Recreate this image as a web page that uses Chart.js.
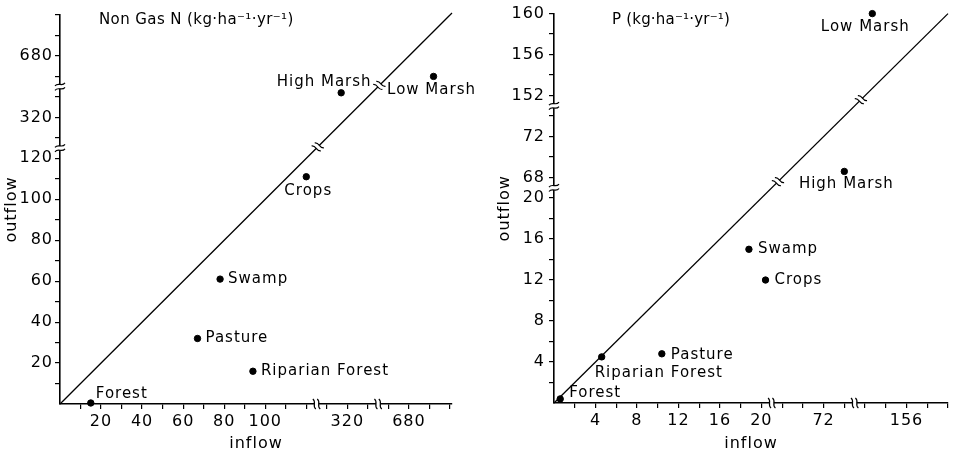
<!DOCTYPE html>
<html>
<head>
<meta charset="utf-8">
<script src="https://cdn.jsdelivr.net/npm/chart.js@4.4.0/dist/chart.umd.min.js"></script>
<style>
  body { margin: 0; background: #fff; }
  canvas { position: absolute; top: 0; }
  #nChart { left: 0; }
  #pChart { left: 480px; }
</style>
</head>
<body>
<canvas id="nChart" width="480" height="454"></canvas>
<canvas id="pChart" width="474" height="454"></canvas>
<script>
// Non gas N (kg/ha/yr)
const nSites = ["Forest", "Pasture", "Swamp", "Riparian Forest", "Crops", "High Marsh", "Low Marsh"];
const nInflow = [15, 67, 78, 94, 120, 317, 692];
const nOutflow = [0.5, 32, 61, 16, 111, 332, 670];
const nXTicks = [10, 20, 30, 40, 50, 60, 70, 80, 90, 100, 110, 120, 310, 320, 330, 670, 680, 690, 700];
const nXLabels = [20, 40, 60, 80, 100, 320, 680];
const nYTicks = [10, 20, 30, 40, 50, 60, 70, 80, 90, 100, 110, 120, 310, 320, 330, 670, 680, 690, 700];
const nYLabels = [20, 40, 60, 80, 100, 120, 320, 680];
// axis pieces: [from, to, amount cut out below]
const nPieces = [[0, 125, 0], [305, 335, 180], [665, 700, 510]];

// P (kg/ha/yr)
const pSites = ["Forest", "Riparian Forest", "Pasture", "Swamp", "Crops", "High Marsh", "Low Marsh"];
const pInflow = [0.6, 4.6, 10.4, 18.8, 20.4, 74, 152.7];
const pOutflow = [0.4, 4.5, 4.8, 15.0, 12.0, 68.6, 160];
const pXTicks = [2, 4, 6, 8, 10, 12, 14, 16, 18, 20, 68, 70, 72, 74, 152, 154, 156, 158, 160];
const pXLabels = [4, 8, 12, 16, 20, 72, 156];
const pYTicks = [2, 4, 6, 8, 10, 12, 14, 16, 18, 20, 68, 70, 72, 74, 152, 154, 156, 158, 160];
const pYLabels = [4, 8, 12, 16, 20, 68, 72, 152, 156, 160];
const pPieces = [[0, 21, 0], [67, 75, 46], [151, 160, 122]];

const family = "DejaVu Sans";

function toShown(v, pieces) {
  for (const [lo, hi, cut] of pieces) if (v <= hi) return v - cut;
  return v - pieces[pieces.length - 1][2];
}

function toReal(d, pieces) {
  for (const [lo, hi, cut] of pieces) if (d <= hi - cut + 0.001) return d + cut;
  return d + pieces[pieces.length - 1][2];
}

function drawBreak(ctx, x, y, ang) {
  ctx.save();
  ctx.translate(x, y);
  ctx.rotate(ang);
  ctx.fillStyle = "#fff";
  ctx.fillRect(-2, -3, 4, 6);
  ctx.strokeStyle = "#000";
  ctx.lineWidth = 1.2;
  for (const s of [-2.2, 2.2]) {
    ctx.beginPath();
    ctx.moveTo(s - 1.5, -5);
    ctx.bezierCurveTo(s + 2.5, -2, s - 2.5, 2, s + 1.5, 5);
    ctx.stroke();
  }
  ctx.restore();
}

function makeChart(id, cfg) {
  const pts = cfg.inflow.map((v, i) => ({ x: toShown(v, cfg.pieces), y: toShown(cfg.outflow[i], cfg.pieces) }));
  const cuts = cfg.pieces.slice(0, -1).map(p => p[1] - p[2]);

  const extras = {
    id: "extras",
    beforeDraw(chart) {
      chart.ctx.letterSpacing = "1px";
    },
    afterDraw(chart) {
      const ctx = chart.ctx;
      const xs = chart.scales.x, ys = chart.scales.y;
      cuts.forEach(c => {
        drawBreak(ctx, xs.getPixelForValue(c), ys.bottom, 0);
        drawBreak(ctx, xs.left, ys.getPixelForValue(c), Math.PI / 2);
        drawBreak(ctx, xs.getPixelForValue(c + 0.6), ys.getPixelForValue(c + 0.6), -Math.PI / 4);
      });
      ctx.save();
      ctx.fillStyle = "#000";
      ctx.font = "15px '" + family + "'";
      ctx.letterSpacing = "1px";
      ctx.textBaseline = "middle";
      const meta = chart.getDatasetMeta(0);
      meta.data.forEach((el, i) => {
        const [dx, dy, align] = cfg.labelPos[i];
        ctx.textAlign = align;
        ctx.fillText(cfg.sites[i], el.x + dx, el.y + dy);
      });
      ctx.textAlign = "left";
      ctx.font = "15px '" + family + "'";
      ctx.letterSpacing = cfg.titleSpacing;
      ctx.fillText(cfg.title, chart.chartArea.left + cfg.titleAt[0], chart.chartArea.top + cfg.titleAt[1]);
      ctx.restore();
    }
  };

  const tickFont = { family, size: 16 };

  return new Chart(document.getElementById(id), {
    type: "scatter",
    data: {
      datasets: [
        { data: pts, backgroundColor: "#000", borderColor: "#000", pointRadius: 3.2, clip: false },
        { data: [{ x: 0, y: 0 }, { x: cfg.lineEnd, y: cfg.lineEnd }], showLine: true, pointRadius: 0,
          borderColor: "#000", borderWidth: 1.3, clip: false }
      ]
    },
    options: {
      responsive: false,
      animation: false,
      layout: { padding: { top: cfg.top, right: cfg.right, left: 0, bottom: 0 } },
      plugins: { legend: { display: false }, tooltip: { enabled: false } },
      scales: {
        x: {
          type: "linear", min: 0, max: cfg.xMax,
          border: { color: "#000", width: 1.6 },
          grid: { drawOnChartArea: false, color: "#000", lineWidth: 1.2, tickLength: 5 },
          ticks: {
            autoSkip: false, maxRotation: 0, padding: 3, color: "#000", font: tickFont,
            callback: v => {
              const r = Math.round(toReal(v, cfg.pieces) * 100) / 100;
              return cfg.xLabels.includes(r) ? String(r) : "";
            }
          },
          title: { display: true, text: "inflow", color: "#000", font: tickFont, padding: { top: 0, bottom: 1 } },
          afterBuildTicks: s => { s.ticks = cfg.xTicks.map(v => ({ value: toShown(v, cfg.pieces) })); },
          afterFit: s => { s.height = cfg.xH; }
        },
        y: {
          type: "linear", min: 0, max: cfg.yMax,
          border: { color: "#000", width: 1.6 },
          grid: { drawOnChartArea: false, color: "#000", lineWidth: 1.2, tickLength: 5 },
          ticks: {
            autoSkip: false, padding: cfg.yPad, color: "#000", font: tickFont,
            callback: v => {
              const r = Math.round(toReal(v, cfg.pieces) * 100) / 100;
              return cfg.yLabels.includes(r) ? String(r) : "";
            }
          },
          title: { display: true, text: "outflow", color: "#000", font: tickFont, padding: { top: cfg.yTitlePad, bottom: 0 } },
          afterBuildTicks: s => { s.ticks = cfg.yTicks.map(v => ({ value: toShown(v, cfg.pieces) })); },
          afterFit: s => { s.width = cfg.yW; }
        }
      }
    },
    plugins: [extras]
  });
}

makeChart("nChart", {
  sites: nSites, inflow: nInflow, outflow: nOutflow, pieces: nPieces,
  xTicks: nXTicks, xLabels: nXLabels, yTicks: nYTicks, yLabels: nYLabels,
  xMax: 191, yMax: 190, lineEnd: 191,
  top: 15, right: 28, xH: 50, yW: 60, yPad: 2, yTitlePad: 2,
  title: "Non Gas N (kg·ha⁻¹·yr⁻¹)", titleAt: [39, 5], titleSpacing: "0.4px",
  labelPos: [[5, -9, "left"], [8, 0, "left"], [8, 0, "left"], [8, 0, "left"], [2, 14, "center"], [-17, -11, "center"], [-2, 14, "center"]]
});

makeChart("pChart", {
  sites: pSites, inflow: pInflow, outflow: pOutflow, pieces: pPieces,
  xTicks: pXTicks, xLabels: pXLabels, yTicks: pYTicks, yLabels: pYLabels,
  xMax: 38, yMax: 38, lineEnd: 38,
  top: 10, right: 6, xH: 51, yW: 74, yPad: 4, yTitlePad: 15,
  title: "P (kg·ha⁻¹·yr⁻¹)", titleAt: [58, 7], titleSpacing: "0.2px",
  labelPos: [[9, -6, "left"], [-7, 16, "left"], [9, 1, "left"], [9, 0, "left"], [9, 0, "left"], [2, 13, "center"], [-7, 14, "center"]]
});
</script>
</body>
</html>
